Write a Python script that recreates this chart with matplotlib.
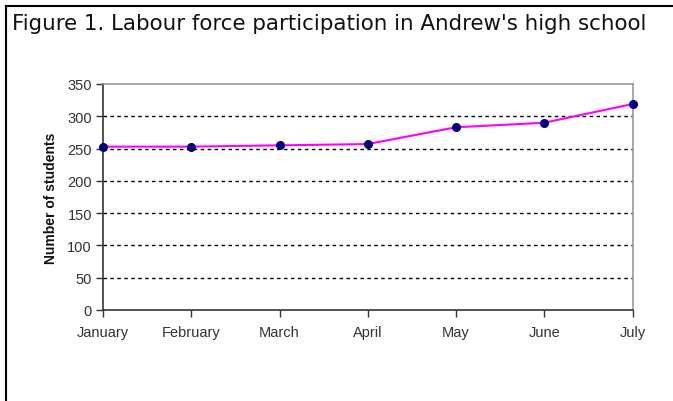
import matplotlib
matplotlib.use("Agg")
import matplotlib.pyplot as plt
from matplotlib.lines import Line2D

months = ["January", "February", "March", "April", "May", "June", "July"]
students = [253, 253, 255, 257, 283, 290, 319]
y_ticks = [0, 50, 100, 150, 200, 250, 300, 350]

W, H = 673, 402
fig = plt.figure(figsize=(W / 100, H / 100), dpi=100)
fig.patch.set_facecolor("white")

# outer frame (left and top edges)
fig.add_artist(Line2D([5.5 / W, 5.5 / W], [0, 1 - 7 / H], transform=fig.transFigure,
                      color="black", lw=1.5))
fig.add_artist(Line2D([5.5 / W, 1], [1 - 7 / H, 1 - 7 / H], transform=fig.transFigure,
                      color="black", lw=1.5))

fig.text(12 / W, 1 - 24 / H, "Figure 1. Labour force participation in Andrew's high school",
         fontsize=15.4, family="DejaVu Sans", color="#111111", va="center", ha="left")

left, right, top, bottom = 103, 632.5, 85, 311
ax = fig.add_axes([left / W, 1 - bottom / H, (right - left) / W, (bottom - top) / H])

x = list(range(len(months)))
ax.plot(x, students, color="#FF00FF", lw=1.5, zorder=3, clip_on=False)
ax.plot(x, students, ls="none", marker="o", ms=5.5, color="#000080", zorder=4, clip_on=False)

ax.set_xlim(0, len(months) - 1)
ax.set_ylim(0, 350)
ax.set_yticks(y_ticks)
ax.set_xticks(x)
ax.set_xticklabels(months)

for v in y_ticks[1:-1]:
    ax.axhline(v, color="black", lw=1, ls=(0, (2.5, 2.5)), zorder=1)

for side in ["top", "right"]:
    ax.spines[side].set_color("#999999")
    ax.spines[side].set_linewidth(1.2)
for side in ["left", "bottom"]:
    ax.spines[side].set_color("#333333")
    ax.spines[side].set_linewidth(1.2)

ax.tick_params(axis="both", direction="out", length=5, width=1, color="#333333",
               labelsize=10.5, labelcolor="#333333")
ax.tick_params(axis="x", pad=6)
ax.tick_params(axis="y", pad=3)
for lbl in ax.get_xticklabels() + ax.get_yticklabels():
    lbl.set_family("Liberation Sans")

ax.set_ylabel("Number of students", fontsize=10, fontweight="bold",
              family="Liberation Sans", color="#111111", labelpad=7)

fig.savefig("out.png", dpi=100, facecolor="white")
